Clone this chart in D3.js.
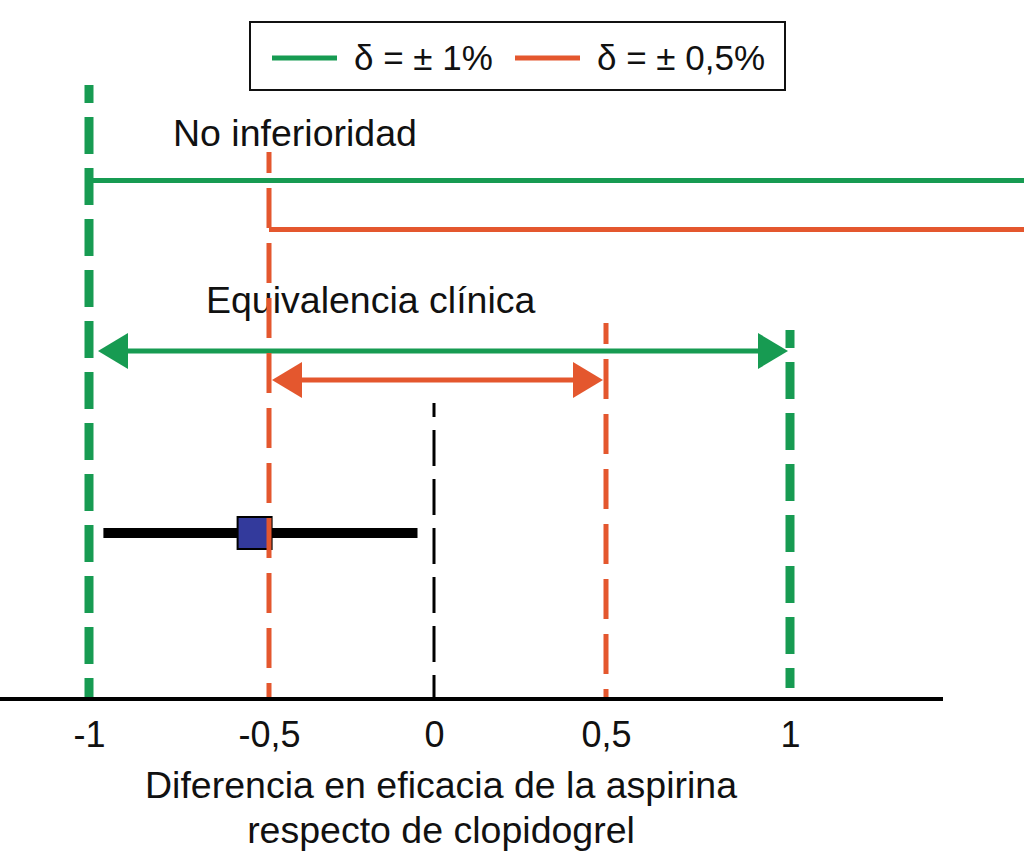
<!DOCTYPE html>
<html lang="es">
<head>
<meta charset="UTF-8">
<title>Equivalencia y no inferioridad</title>
<script src="https://d3js.org/d3.v7.min.js"></script>
<style>
  body { margin: 0; background: #fff; }
  text { font-family: "Liberation Sans", Arial, Helvetica, sans-serif; fill: #111; }
</style>
</head>
<body>
<script>
// data
const seriesLabels = ["δ = ± 1%", "δ = ± 0,5%"];
const margins = [1, 0.5];
const tickValues = [-1, -0.5, 0, 0.5, 1];
const tickLabels = ["-1", "-0,5", "0", "0,5", "1"];
const estimate = -0.54;
const ciLower = -0.96;
const ciUpper = -0.05;
const axisTitle = ["Diferencia en eficacia de la aspirina", "respecto de clopidogrel"];

// styles / layout
const W = 1024, H = 852;
const colors = ["#179b52", "#e4572e"];
const dashWidth = [9, 5];
const dashArray = ["37,14", "40,15"];
const nonInfY = [180.5, 229.5];
const arrowY = [351, 380];
const lowerTop = [85, 152], upperTop = [330, 323], upperBottom = [688, 699];
const insetL = [9, 3], insetR = [2, 3];
const axisY = 699;

const svg = d3.select("body").append("svg")
    .attr("width", W)
    .attr("height", H);

// tick positions in the picture are slightly uneven, so a polylinear scale
const x = d3.scaleLinear()
    .domain(tickValues)
    .range([89, 269, 434, 606, 790]);

// legend
const legend = svg.append("g").attr("transform", "translate(250,22)");
legend.append("rect")
    .attr("width", 535).attr("height", 68)
    .attr("fill", "#fff").attr("stroke", "#111").attr("stroke-width", 2);
const legendX = [22, 265];
seriesLabels.forEach((s, i) => {
    legend.append("line")
        .attr("x1", legendX[i]).attr("x2", legendX[i] + 65)
        .attr("y1", 36).attr("y2", 36)
        .attr("stroke", colors[i]).attr("stroke-width", 5);
    legend.append("text")
        .attr("x", legendX[i] + 82).attr("y", 48)
        .style("font-size", "35px")
        .text(s);
});

// labels
svg.append("text").attr("x", 173).attr("y", 146).style("font-size", "37.5px").text("No inferioridad");
svg.append("text").attr("x", 206).attr("y", 313).style("font-size", "37.5px").text("Equivalencia clínica");

// non-inferiority lines
margins.forEach((m, i) => {
    svg.append("line")
        .attr("x1", x(-m)).attr("x2", W)
        .attr("y1", nonInfY[i]).attr("y2", nonInfY[i])
        .attr("stroke", colors[i]).attr("stroke-width", 5);
});

// equivalence double arrows
const headLen = 30, headHalf = 18;
margins.forEach((m, i) => {
    const l = x(-m) + insetL[i], r = x(m) - insetR[i], y = arrowY[i];
    svg.append("line")
        .attr("x1", l + headLen - 1).attr("x2", r - headLen + 1)
        .attr("y1", y).attr("y2", y)
        .attr("stroke", colors[i]).attr("stroke-width", 5);
    svg.append("path")
        .attr("d", `M${l},${y}L${l + headLen},${y - headHalf}L${l + headLen},${y + headHalf}Z`)
        .attr("fill", colors[i]);
    svg.append("path")
        .attr("d", `M${r},${y}L${r - headLen},${y - headHalf}L${r - headLen},${y + headHalf}Z`)
        .attr("fill", colors[i]);
});

// confidence interval and point estimate
const ciY = 533;
svg.append("line")
    .attr("x1", x(ciLower)).attr("x2", x(ciUpper))
    .attr("y1", ciY).attr("y2", ciY)
    .attr("stroke", "#000").attr("stroke-width", 10);
svg.append("rect")
    .attr("x", x(estimate) - 17).attr("y", ciY - 16)
    .attr("width", 34).attr("height", 32)
    .attr("fill", "#333a9c").attr("stroke", "#000").attr("stroke-width", 2);

// dashed margin lines
margins.forEach((m, i) => {
    [[-m, lowerTop[i], axisY], [m, upperTop[i], upperBottom[i]]].forEach(([v, top, bottom]) => {
        svg.append("line")
            .attr("x1", x(v)).attr("x2", x(v))
            .attr("y1", top).attr("y2", bottom)
            .attr("stroke", colors[i])
            .attr("stroke-width", dashWidth[i])
            .attr("stroke-dasharray", dashArray[i])
            .attr("stroke-dashoffset", 19);
    });
});

// zero line
svg.append("line")
    .attr("x1", x(0)).attr("x2", x(0))
    .attr("y1", 403).attr("y2", axisY)
    .attr("stroke", "#000").attr("stroke-width", 3)
    .attr("stroke-dasharray", "36,13")
    .attr("stroke-dashoffset", 22);

// axis
const axis = svg.append("g")
    .attr("transform", `translate(0,${axisY})`)
    .call(d3.axisBottom(x).tickValues(tickValues)
        .tickFormat((d, i) => tickLabels[i])
        .tickSize(0).tickPadding(22));
axis.select(".domain").remove();
axis.selectAll("text")
    .style("font-size", "36px")
    .style("font-family", "'Liberation Sans', Arial, sans-serif")
    .attr("fill", "#111");

svg.append("line")
    .attr("x1", 0).attr("x2", 943)
    .attr("y1", axisY).attr("y2", axisY)
    .attr("stroke", "#000").attr("stroke-width", 4);

svg.selectAll(".axis-title")
    .data(axisTitle)
    .enter().append("text")
    .attr("class", "axis-title")
    .attr("x", 441)
    .attr("y", (d, i) => 798 + i * 45)
    .attr("text-anchor", "middle")
    .style("font-size", "37.5px")
    .text(d => d);
</script>
</body>
</html>
